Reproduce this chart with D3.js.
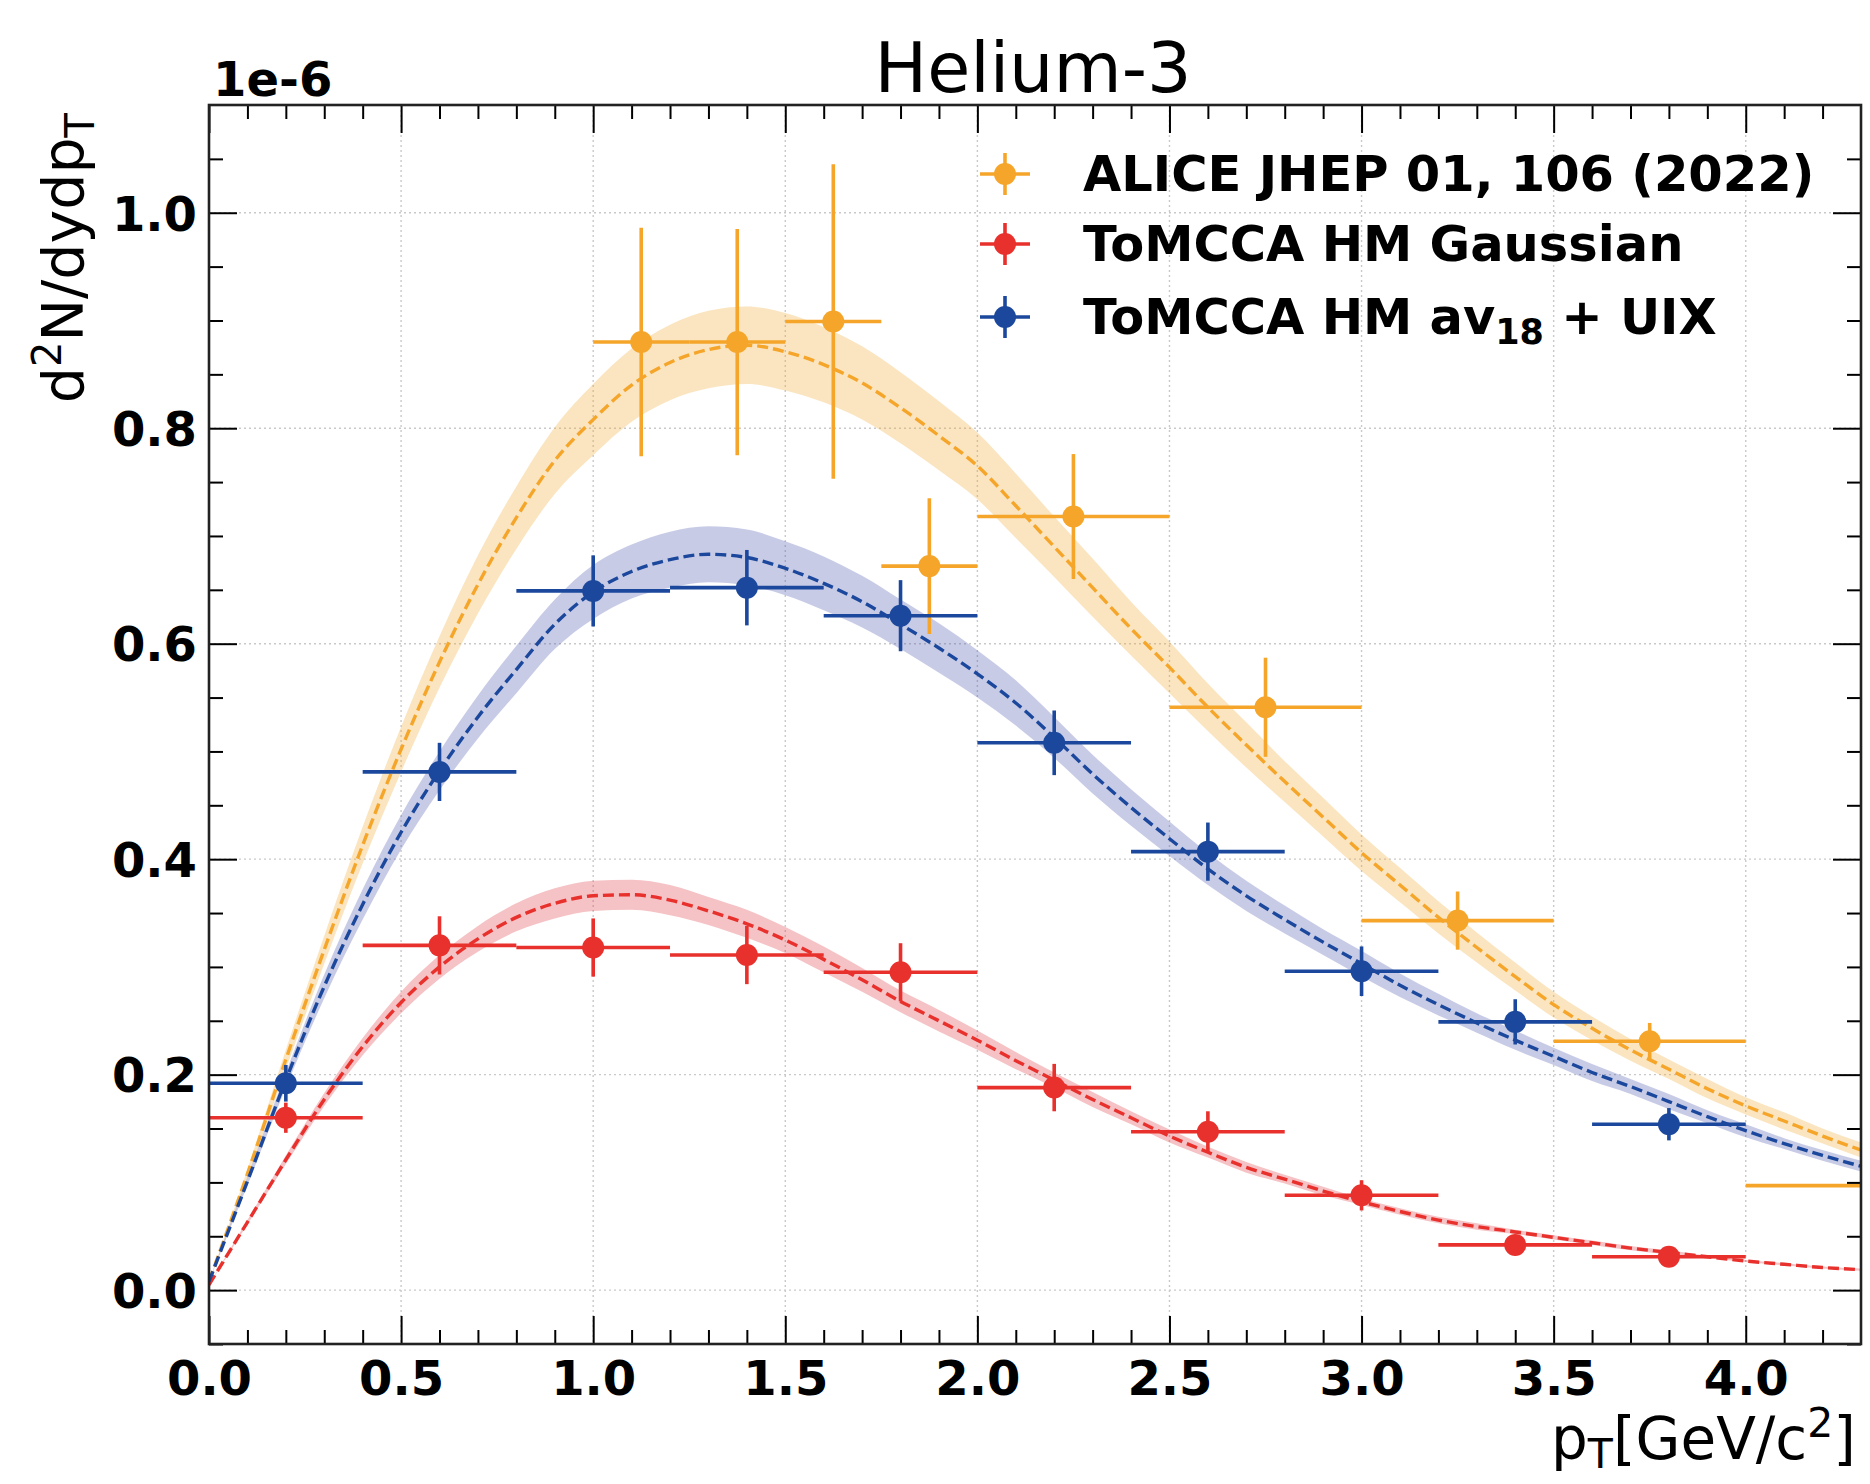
<!DOCTYPE html>
<html>
<head>
<meta charset="utf-8">
<script src="https://cdn.jsdelivr.net/npm/d3@7"></script>
<style>
  body { margin: 0; background: #fff; }
  svg { display: block; }
  text { font-family: "DejaVu Sans", sans-serif; fill: #000; }
</style>
</head>
<body>
<div id="chart"></div>
<script>
// ---- data (units of 1e-6) ----
const X_GRID = [0.0, 0.1, 0.2, 0.3, 0.4, 0.5, 0.6, 0.7, 0.8, 0.9, 1.0, 1.1, 1.2, 1.3, 1.4, 1.5, 1.6, 1.7, 1.8, 1.9, 2.0, 2.1,
  2.2, 2.3, 2.4, 2.5, 2.6, 2.7, 2.8, 2.9, 3.0, 3.1, 3.2, 3.3, 3.4, 3.5, 3.6, 3.7, 3.8, 3.9, 4.0, 4.1, 4.2, 4.3];

const ALICE_CURVE = [0.008, 0.108, 0.214, 0.316, 0.413, 0.502, 0.583, 0.655, 0.717, 0.770, 0.808, 0.840, 0.861, 0.873,
  0.877, 0.871, 0.859, 0.842, 0.819, 0.793, 0.765, 0.728, 0.690, 0.652, 0.614, 0.578, 0.541, 0.506, 0.472, 0.439, 0.406,
  0.376, 0.346, 0.318, 0.291, 0.265, 0.243, 0.223, 0.205, 0.187, 0.171, 0.157, 0.143, 0.130];
const ALICE_BAND = [0.000, 0.004, 0.009, 0.013, 0.017, 0.021, 0.024, 0.027, 0.029, 0.031, 0.033, 0.034, 0.035, 0.036,
  0.036, 0.036, 0.035, 0.034, 0.033, 0.032, 0.031, 0.030, 0.028, 0.027, 0.025, 0.024, 0.022, 0.021, 0.019, 0.018, 0.017,
  0.016, 0.015, 0.014, 0.013, 0.012, 0.011, 0.010, 0.009, 0.009, 0.008, 0.008, 0.007, 0.007];

const AV18_CURVE = [0.008, 0.101, 0.195, 0.282, 0.358, 0.425, 0.482, 0.532, 0.576, 0.618, 0.648, 0.667, 0.678, 0.683,
  0.680, 0.670, 0.656, 0.639, 0.618, 0.596, 0.572, 0.545, 0.513, 0.479, 0.448, 0.419, 0.391, 0.366, 0.344, 0.323, 0.303,
  0.283, 0.265, 0.248, 0.232, 0.217, 0.202, 0.189, 0.175, 0.161, 0.148, 0.136, 0.125, 0.115];
const AV18_BAND = [0.000, 0.004, 0.007, 0.011, 0.014, 0.016, 0.018, 0.020, 0.022, 0.023, 0.025, 0.025, 0.026, 0.026,
  0.026, 0.025, 0.025, 0.024, 0.023, 0.023, 0.022, 0.021, 0.019, 0.018, 0.017, 0.016, 0.015, 0.014, 0.013, 0.012, 0.012,
  0.011, 0.010, 0.009, 0.009, 0.008, 0.008, 0.007, 0.007, 0.006, 0.006, 0.005, 0.005, 0.005];

const GAUSS_CURVE = [0.005, 0.063, 0.121, 0.177, 0.226, 0.267, 0.300, 0.326, 0.346, 0.359, 0.366, 0.367, 0.362, 0.352,
  0.340, 0.325, 0.307, 0.288, 0.268, 0.250, 0.232, 0.213, 0.195, 0.177, 0.160, 0.143, 0.128, 0.114, 0.103, 0.092, 0.082,
  0.073, 0.065, 0.059, 0.054, 0.049, 0.044, 0.039, 0.035, 0.031, 0.027, 0.024, 0.021, 0.019];
const GAUSS_BAND = [0.000, 0.002, 0.004, 0.006, 0.008, 0.010, 0.011, 0.012, 0.013, 0.014, 0.014, 0.014, 0.014, 0.013,
  0.013, 0.012, 0.012, 0.011, 0.010, 0.010, 0.009, 0.008, 0.007, 0.007, 0.006, 0.006, 0.005, 0.005, 0.004, 0.004, 0.003,
  0.003, 0.003, 0.003, 0.002, 0.002, 0.002, 0.002, 0.002, 0.001, 0.001, 0.001, 0.001, 0.001];

const ALICE_X = [1.125, 1.375, 1.625, 1.875, 2.25, 2.75, 3.25, 3.75, 4.5];
const ALICE_XERR = [0.125, 0.125, 0.125, 0.125, 0.25, 0.25, 0.25, 0.25, 0.5];
const ALICE_Y = [0.880, 0.880, 0.899, 0.672, 0.718, 0.541, 0.343, 0.231, 0.097];
const ALICE_YERR = [0.106, 0.105, 0.146, 0.063, 0.058, 0.046, 0.027, 0.017, 0.010];

const TOMCCA_X = [0.2, 0.6, 1.0, 1.4, 1.8, 2.2, 2.6, 3.0, 3.4, 3.8];
const TOMCCA_XERR = [0.2, 0.2, 0.2, 0.2, 0.2, 0.2, 0.2, 0.2, 0.2, 0.2];
const GAUSS_Y = [0.160, 0.320, 0.318, 0.311, 0.295, 0.188, 0.147, 0.088, 0.042, 0.031];
const GAUSS_YERR = [0.014, 0.027, 0.027, 0.027, 0.027, 0.022, 0.019, 0.014, 0.006, 0.004];
const AV18_Y = [0.192, 0.481, 0.649, 0.652, 0.626, 0.508, 0.407, 0.296, 0.249, 0.154];
const AV18_YERR = [0.017, 0.027, 0.033, 0.035, 0.033, 0.030, 0.027, 0.023, 0.021, 0.015];

const X_TICKS = [0.0, 0.5, 1.0, 1.5, 2.0, 2.5, 3.0, 3.5, 4.0];
const X_MINOR = [0.1, 0.2, 0.3, 0.4, 0.6, 0.7, 0.8, 0.9, 1.1, 1.2, 1.3, 1.4, 1.6, 1.7, 1.8, 1.9, 2.1, 2.2, 2.3, 2.4,
  2.6, 2.7, 2.8, 2.9, 3.1, 3.2, 3.3, 3.4, 3.6, 3.7, 3.8, 3.9, 4.1, 4.2];
const Y_TICKS = [0.0, 0.2, 0.4, 0.6, 0.8, 1.0];
const Y_MINOR = [-0.05, 0.05, 0.1, 0.15, 0.25, 0.3, 0.35, 0.45, 0.5, 0.55, 0.65, 0.7, 0.75, 0.85, 0.9, 0.95, 1.05];

// ---- layout ----
const W = 1870, H = 1484;
const P = { left: 209, right: 1861, top: 105, bottom: 1344 };

const svg = d3.select('#chart').append('svg').attr('width', W).attr('height', H);
svg.append('rect').attr('width', W).attr('height', H).attr('fill', '#fff');

const x = d3.scaleLinear().domain([0, 4.3]).range([P.left, P.right]);
const y = d3.scaleLinear().domain([-0.05, 1.1]).range([P.bottom, P.top]);

svg.append('clipPath').attr('id', 'plot-clip')
  .append('rect').attr('x', P.left).attr('y', P.top)
  .attr('width', P.right - P.left).attr('height', P.bottom - P.top);

// grid
const grid = svg.append('g').attr('stroke', '#c9c9c9').attr('stroke-width', 1.4).attr('stroke-dasharray', '2,3');
grid.selectAll('line.gx').data(X_TICKS).join('line').attr('class', 'gx')
  .attr('x1', d => x(d)).attr('x2', d => x(d)).attr('y1', P.top).attr('y2', P.bottom);
grid.selectAll('line.gy').data(Y_TICKS).join('line').attr('class', 'gy')
  .attr('x1', P.left).attr('x2', P.right).attr('y1', d => y(d)).attr('y2', d => y(d));

const series = [
  { key: 'alice', color: '#f5a62a', band: '#eeaa2e', curve: ALICE_CURVE, half: ALICE_BAND,
    px: ALICE_X, pxe: ALICE_XERR, py: ALICE_Y, pye: ALICE_YERR },
  { key: 'gauss', color: '#e8302c', band: '#de343e', curve: GAUSS_CURVE, half: GAUSS_BAND,
    px: TOMCCA_X, pxe: TOMCCA_XERR, py: GAUSS_Y, pye: GAUSS_YERR },
  { key: 'av18', color: '#1b489c', band: '#4852ac', curve: AV18_CURVE, half: AV18_BAND,
    px: TOMCCA_X, pxe: TOMCCA_XERR, py: AV18_Y, pye: AV18_YERR }
];

const plot = svg.append('g').attr('clip-path', 'url(#plot-clip)');

const area = d3.area()
  .x(d => x(d.x)).y0(d => y(d.y - d.h)).y1(d => y(d.y + d.h))
  .curve(d3.curveMonotoneX);
const line = d3.line().x(d => x(d.x)).y(d => y(d.y)).curve(d3.curveMonotoneX);

series.forEach(s => {
  s.rows = X_GRID.map((xv, i) => ({ x: xv, y: s.curve[i], h: s.half[i] }));
  s.pts = s.px.map((xv, i) => ({ x: xv, xe: s.pxe[i], y: s.py[i], ye: s.pye[i] }));
});

// bands
series.forEach(s => {
  plot.append('path').datum(s.rows).attr('d', area)
    .attr('fill', s.band).attr('fill-opacity', 0.3).attr('stroke', 'none');
});
// dashed model lines
series.forEach(s => {
  plot.append('path').datum(s.rows).attr('d', line)
    .attr('fill', 'none').attr('stroke', s.color).attr('stroke-width', 3.4)
    .attr('stroke-dasharray', '11,5');
});
// error bars + markers
series.forEach(s => {
  const g = plot.append('g').attr('stroke', s.color).attr('stroke-width', 3.6);
  g.selectAll('line.xe').data(s.pts).join('line').attr('class', 'xe')
    .attr('x1', d => x(d.x - d.xe)).attr('x2', d => x(d.x + d.xe))
    .attr('y1', d => y(d.y)).attr('y2', d => y(d.y));
  g.selectAll('line.ye').data(s.pts).join('line').attr('class', 'ye')
    .attr('x1', d => x(d.x)).attr('x2', d => x(d.x))
    .attr('y1', d => y(d.y - d.ye)).attr('y2', d => y(d.y + d.ye));
  plot.append('g').selectAll('circle').data(s.pts).join('circle')
    .attr('cx', d => x(d.x)).attr('cy', d => y(d.y)).attr('r', 11)
    .attr('fill', s.color);
});

// ---- axes: inward ticks on all four sides ----
const fmt = d3.format('.1f');
function styleAxis(g) {
  g.select('.domain').remove();
  g.selectAll('.tick line').attr('stroke', '#000').attr('stroke-width', 2);
}
const bottom = svg.append('g').attr('transform', `translate(0,${P.bottom})`)
  .call(d3.axisBottom(x).tickValues(X_TICKS).tickFormat(fmt).tickSizeInner(-28).tickSizeOuter(0).tickPadding(17));
bottom.call(styleAxis);
bottom.selectAll('text').attr('font-size', 48).attr('font-weight', 'bold')
  .attr('font-family', '"DejaVu Sans", sans-serif').attr('fill', '#000');
svg.append('g').attr('transform', `translate(0,${P.bottom})`)
  .call(d3.axisBottom(x).tickValues(X_MINOR).tickFormat('').tickSizeInner(-14).tickSizeOuter(0)).call(styleAxis);
svg.append('g').attr('transform', `translate(0,${P.top})`)
  .call(d3.axisTop(x).tickValues(X_TICKS).tickFormat('').tickSizeInner(-28).tickSizeOuter(0)).call(styleAxis);
svg.append('g').attr('transform', `translate(0,${P.top})`)
  .call(d3.axisTop(x).tickValues(X_MINOR).tickFormat('').tickSizeInner(-14).tickSizeOuter(0)).call(styleAxis);

const left = svg.append('g').attr('transform', `translate(${P.left},0)`)
  .call(d3.axisLeft(y).tickValues(Y_TICKS).tickFormat(fmt).tickSizeInner(-28).tickSizeOuter(0).tickPadding(12));
left.call(styleAxis);
left.selectAll('text').attr('font-size', 48).attr('font-weight', 'bold').attr('dy', '0.36em')
  .attr('font-family', '"DejaVu Sans", sans-serif').attr('fill', '#000');
svg.append('g').attr('transform', `translate(${P.left},0)`)
  .call(d3.axisLeft(y).tickValues(Y_MINOR).tickFormat('').tickSizeInner(-14).tickSizeOuter(0)).call(styleAxis);
svg.append('g').attr('transform', `translate(${P.right},0)`)
  .call(d3.axisRight(y).tickValues(Y_TICKS).tickFormat('').tickSizeInner(-28).tickSizeOuter(0)).call(styleAxis);
svg.append('g').attr('transform', `translate(${P.right},0)`)
  .call(d3.axisRight(y).tickValues(Y_MINOR).tickFormat('').tickSizeInner(-14).tickSizeOuter(0)).call(styleAxis);

// frame
svg.append('rect').attr('x', P.left).attr('y', P.top)
  .attr('width', P.right - P.left).attr('height', P.bottom - P.top)
  .attr('fill', 'none').attr('stroke', '#222').attr('stroke-width', 2.6);

// ---- texts ----
svg.append('text').attr('x', (P.left + P.right) / 2 - 2).attr('y', 92)
  .attr('text-anchor', 'middle').attr('font-size', 70).text('Helium-3');

svg.append('text').attr('x', 213).attr('y', 96)
  .attr('font-size', 48).attr('font-weight', 'bold').text('1e-6');

// x label: p_T[GeV/c^2]
const xl = svg.append('text').attr('x', 1856).attr('y', 1459)
  .attr('text-anchor', 'end').attr('font-size', 58);
xl.append('tspan').text('p');
xl.append('tspan').attr('font-size', 41).attr('dy', 9).text('T');
xl.append('tspan').attr('dy', -9).text('[GeV/c');
xl.append('tspan').attr('font-size', 41).attr('dy', -22).text('2');
xl.append('tspan').attr('dy', 22).text(']');

// y label: d^2N/dydp_T
const yl = svg.append('text').attr('transform', 'translate(83,113) rotate(-90)')
  .attr('text-anchor', 'end').attr('font-size', 57);
yl.append('tspan').text('d');
yl.append('tspan').attr('font-size', 40).attr('dy', -22).text('2');
yl.append('tspan').attr('dy', 22).text('N/dydp');
yl.append('tspan').attr('font-size', 40).attr('dy', 11).text('T');

// ---- legend ----
const LEGEND_LABELS = ['ALICE JHEP 01, 106 (2022)', 'ToMCCA HM Gaussian', 'ToMCCA HM av|18| + UIX'];
const legendY = [174, 244, 317];
const lg = svg.append('g');
series.forEach((s, i) => {
  const cy = legendY[i], cx = 1005;
  lg.append('line').attr('x1', cx - 25).attr('x2', cx + 25).attr('y1', cy).attr('y2', cy)
    .attr('stroke', s.color).attr('stroke-width', 3.6);
  lg.append('line').attr('x1', cx).attr('x2', cx).attr('y1', cy - 21).attr('y2', cy + 21)
    .attr('stroke', s.color).attr('stroke-width', 3.6);
  lg.append('circle').attr('cx', cx).attr('cy', cy).attr('r', 11).attr('fill', s.color);
  const t = lg.append('text').attr('x', 1083).attr('y', cy + 17)
    .attr('font-size', 49.5).attr('font-weight', 'bold');
  const parts = LEGEND_LABELS[i].split('|');
  if (parts.length === 1) {
    t.text(parts[0]);
  } else {
    t.append('tspan').text(parts[0]);
    t.append('tspan').attr('font-size', 35).attr('dy', 10).text(parts[1]);
    t.append('tspan').attr('dy', -10).text(parts[2]);
  }
});
</script>
</body>
</html>
